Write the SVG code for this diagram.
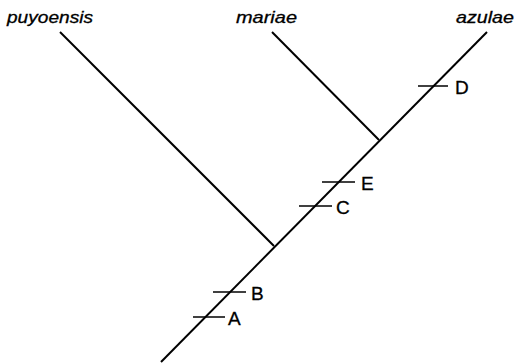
<svg xmlns="http://www.w3.org/2000/svg" width="516" height="363" viewBox="0 0 516 363">
<style>
.br{stroke:#000;stroke-width:2;fill:none;stroke-linecap:butt}
.tk{stroke:#000;stroke-width:1.5}
.tx{font-family:"Liberation Sans",Arial,sans-serif;font-style:italic;font-size:17px;fill:#000;stroke:#000;stroke-width:0.3}
.lb{font-family:"Liberation Sans",Arial,sans-serif;font-size:19px;fill:#000;stroke:#000;stroke-width:0.3}
</style>
<rect width="516" height="363" fill="#fff"/>
<g id="connectors">
<line class="br" x1="161" y1="362" x2="487" y2="32"/>
<line class="br" x1="274" y1="246" x2="60" y2="32"/>
<line class="br" x1="379" y1="140" x2="272" y2="32"/>
</g>
<g id="taxon-puyoensis"><text class="tx" x="7" y="23" textLength="86" lengthAdjust="spacingAndGlyphs">puyoensis</text></g>
<g id="taxon-mariae"><text class="tx" x="236" y="23" textLength="61" lengthAdjust="spacingAndGlyphs">mariae</text></g>
<g id="taxon-azulae"><text class="tx" x="456" y="23" textLength="58" lengthAdjust="spacingAndGlyphs">azulae</text></g>
<g id="char-D"><line class="tk" x1="418" y1="86" x2="448" y2="86"/><text class="lb" x="455" y="94">D</text></g>
<g id="char-E"><line class="tk" x1="322" y1="182" x2="355" y2="182"/><text class="lb" x="361" y="190">E</text></g>
<g id="char-C"><line class="tk" x1="299" y1="206" x2="332" y2="206"/><text class="lb" x="336" y="214">C</text></g>
<g id="char-B"><line class="tk" x1="213" y1="292" x2="246" y2="292"/><text class="lb" x="251" y="300">B</text></g>
<g id="char-A"><line class="tk" x1="193" y1="317" x2="225" y2="317"/><text class="lb" x="228" y="325">A</text></g>
</svg>
